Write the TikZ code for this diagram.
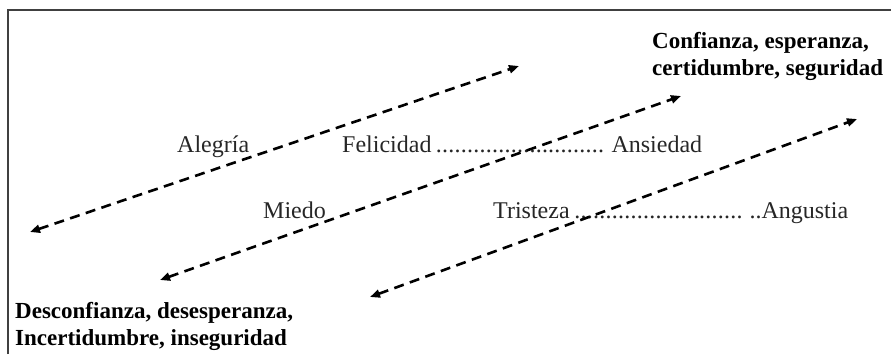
\documentclass[tikz,border=0pt]{standalone}
\usepackage{fontspec}
\setmainfont{Liberation Serif}
\usetikzlibrary{arrows.meta}
\newcommand{\mydots}{\leaders\hbox to 0.26em{\hss.\hss}\hfill}
\begin{document}
\begin{tikzpicture}[x=1pt,y=-1pt,
  lbl/.style={inner sep=0pt,font=\fontsize{24}{27}\selectfont,text=black!85},
  bold/.style={inner sep=0pt,font=\fontsize{23}{27}\selectfont\bfseries,align=left,text=black},
  dasharrow/.style={line width=2.6pt,dash pattern=on 10pt off 6.5pt,{Triangle[length=10pt,width=8pt]}-{Triangle[length=10pt,width=8pt]}}]
\useasboundingbox (0,0) rectangle (891,354);
% frame
\draw[line width=1.6pt,black!75] (8,354) -- (8,10) -- (891,10);
% texts
\node[lbl,anchor=base west] (alegria) at (177,152) {Alegría};
\node[lbl,anchor=base west] (felic) at (342,152) {\makebox[360pt][s]{Felicidad\mydots\ Ansiedad}};
\node[lbl,anchor=base west] (miedo) at (263,218) {Miedo};
\node[lbl,anchor=base west] (trist) at (493,218) {\makebox[355pt][s]{Tristeza\,\mydots\ ..Angustia}};
\node[bold,anchor=base west] (conf) at (652,75) {Confianza, esperanza,\\certidumbre, seguridad};
\node[bold,anchor=base west] (desc) at (15,345) {Desconfianza, desesperanza,\\Incertidumbre, inseguridad};
% arrow end points
\coordinate (a1s) at (30,232);
\coordinate (a1e) at (519,66);
\coordinate (a2s) at (160,280);
\coordinate (a2e) at (681,96);
\coordinate (a3s) at (370,297);
\coordinate (a3e) at (857,119);
\draw[dasharrow] (a1s) -- (a1e);
\draw[dasharrow] (a2s) -- (a2e);
\draw[dasharrow] (a3s) -- (a3e);
\end{tikzpicture}
\end{document}
